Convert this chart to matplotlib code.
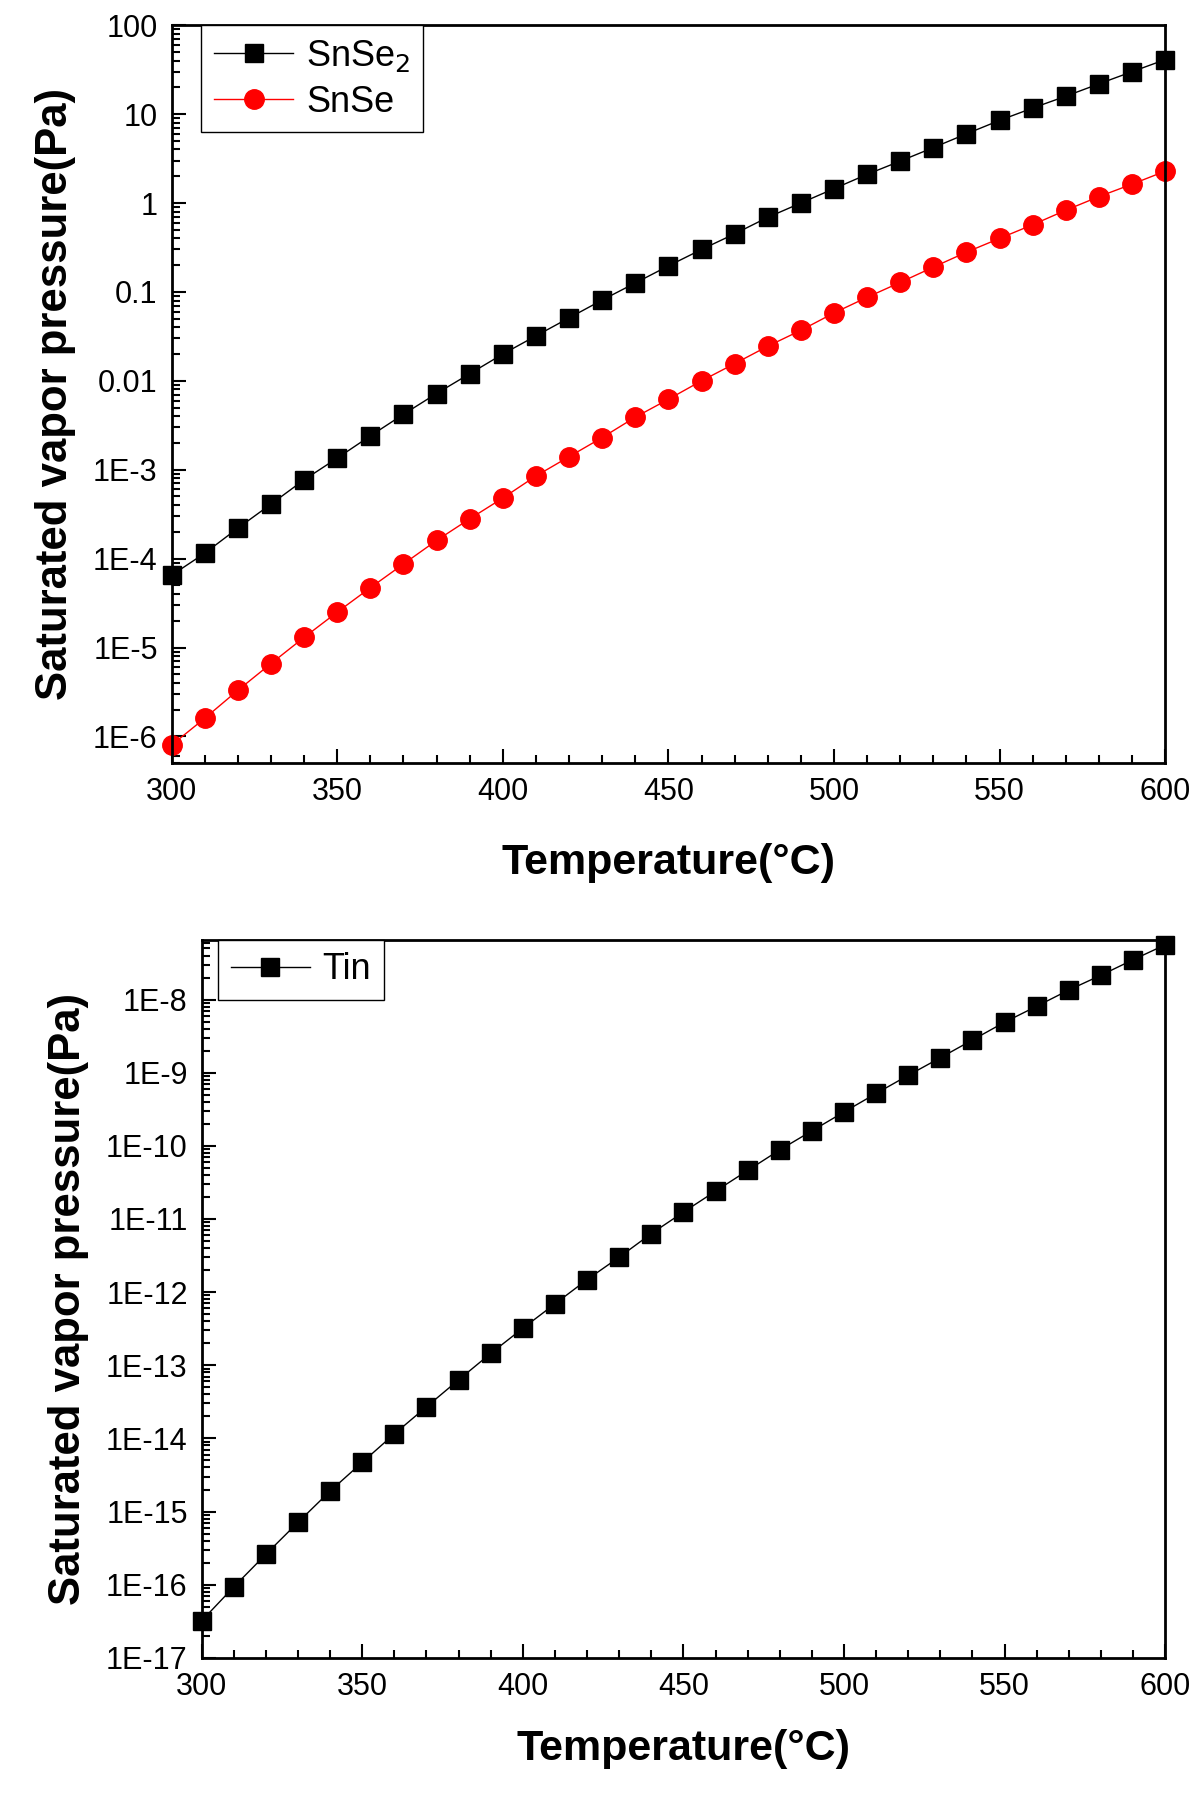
import matplotlib.pyplot as plt
from matplotlib.ticker import LogLocator, MultipleLocator, FixedLocator, NullFormatter

plt.rcParams['font.family'] = ['Liberation Sans', 'DejaVu Sans']

# temperature in degrees C
temps = list(range(300, 601, 10))

# saturated vapor pressure (Pa)
snse2 = [6.5e-5, 1.15e-4, 2.2e-4, 4.1e-4, 7.7e-4, 1.35e-3, 2.4e-3, 4.2e-3, 7.2e-3, 0.012,
         0.020, 0.032, 0.051, 0.081, 0.126, 0.196, 0.30, 0.45, 0.69, 1.0,
         1.45, 2.1, 2.96, 4.2, 6.0, 8.5, 11.7, 15.9, 21.9, 30, 41]
snse = [8e-7, 1.6e-6, 3.3e-6, 6.6e-6, 1.3e-5, 2.5e-5, 4.7e-5, 8.7e-5, 1.6e-4, 2.8e-4,
        4.8e-4, 8.5e-4, 1.4e-3, 2.3e-3, 3.9e-3, 6.2e-3, 0.010, 0.0156, 0.0245, 0.037,
        0.058, 0.087, 0.128, 0.19, 0.28, 0.40, 0.57, 0.83, 1.18, 1.63, 2.28]
tin = [3.2e-17, 9.3e-17, 2.6e-16, 7.1e-16, 1.9e-15, 4.7e-15, 1.15e-14, 2.7e-14, 6.3e-14, 1.45e-13,
       3.2e-13, 6.9e-13, 1.48e-12, 3.0e-12, 6.3e-12, 1.24e-11, 2.4e-11, 4.6e-11, 8.8e-11, 1.6e-10,
       2.9e-10, 5.2e-10, 9.2e-10, 1.6e-9, 2.8e-9, 4.9e-9, 8.1e-9, 1.35e-8, 2.15e-8, 3.5e-8, 5.6e-8]

top_ticks = [1e-6, 1e-5, 1e-4, 1e-3, 1e-2, 0.1, 1, 10, 100]
top_labels = ['1E-6', '1E-5', '1E-4', '1E-3', '0.01', '0.1', '1', '10', '100']
bot_ticks = [10.0 ** e for e in range(-17, -7)]
bot_labels = ['1E-%d' % -e for e in range(-17, -7)]

fig = plt.figure(figsize=(12, 18), dpi=100)
ax1 = fig.add_axes([0.143, 0.576, 0.828, 0.41])
ax2 = fig.add_axes([0.168, 0.079, 0.803, 0.399])


def style(ax, ticks, labels, ylim):
    ax.set_yscale('log')
    ax.set_xlim(300, 600)
    ax.set_ylim(*ylim)
    ax.xaxis.set_major_locator(MultipleLocator(50))
    ax.xaxis.set_minor_locator(MultipleLocator(10))
    ax.yaxis.set_major_locator(FixedLocator(ticks))
    ax.yaxis.set_minor_locator(LogLocator(base=10, subs=[2, 3, 4, 5, 6, 7, 8, 9], numticks=40))
    ax.yaxis.set_minor_formatter(NullFormatter())
    ax.set_yticklabels(labels)
    ax.tick_params(which='both', direction='in', top=False, right=False, labelsize=22, width=1.5)
    ax.tick_params(which='major', length=10, pad=10)
    ax.tick_params(which='minor', length=6)
    for s in ax.spines.values():
        s.set_linewidth(2)
    ax.set_xlabel('Temperature(°C)', fontsize=31, fontweight='bold', labelpad=26)
    ax.set_ylabel('Saturated vapor pressure(Pa)', fontsize=31.5, fontweight='bold', labelpad=12)


def add_legend(ax, x0):
    ax.legend(loc='upper left', bbox_to_anchor=(x0, 1.0), fontsize=26, fancybox=False,
              edgecolor='black', framealpha=1, handlelength=2.2, handletextpad=0.35,
              borderaxespad=0, borderpad=0.35, labelspacing=0.3)


ax1.plot(temps, snse2, color='black', lw=1, marker='s', ms=13, label='SnSe$_2$', clip_on=False)
ax1.plot(temps, snse, color='red', lw=1, marker='o', ms=14, label='SnSe', clip_on=False)
style(ax1, top_ticks, top_labels, (5e-7, 100))
add_legend(ax1, 0.03)

ax2.plot(temps, tin, color='black', lw=1, marker='s', ms=13, label='Tin', clip_on=False)
style(ax2, bot_ticks, bot_labels, (1e-17, 6.6e-8))
add_legend(ax2, 0.017)
ax2.xaxis.labelpad = 20

fig.savefig('out.png', dpi=100)
